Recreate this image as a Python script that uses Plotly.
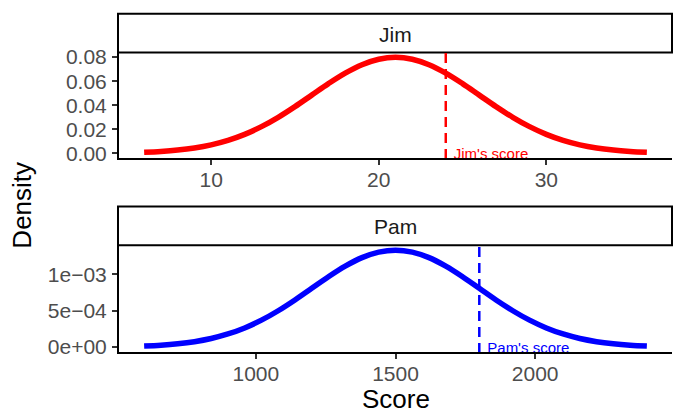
import plotly.graph_objects as go

W, H = 673, 419

# ---- data ----
jim_x = [6, 7, 8, 9, 10, 11, 12, 13, 14, 15, 16, 17, 18, 19, 20, 21,
         22, 23, 24, 25, 26, 27, 28, 29, 30, 31, 32, 33, 34, 35, 36]
jim_d = [0.000886, 0.001583, 0.002716, 0.004479, 0.007095, 0.010798, 0.015790,
         0.022184, 0.029946, 0.038838, 0.048394, 0.057938, 0.066645, 0.073654,
         0.078209, 0.079788, 0.078209, 0.073654, 0.066645, 0.057938, 0.048394,
         0.038838, 0.029946, 0.022184, 0.015790, 0.010798, 0.007095, 0.004479,
         0.002716, 0.001583, 0.000886]
jim_score = 24

pam_x = [600, 660, 720, 780, 840, 900, 960, 1020, 1080, 1140, 1200, 1260, 1320,
         1380, 1440, 1500, 1560, 1620, 1680, 1740, 1800, 1860, 1920, 1980, 2040,
         2100, 2160, 2220, 2280, 2340, 2400]
pam_d = [0.0000148, 0.0000264, 0.0000453, 0.0000746, 0.00011823, 0.00017997,
         0.00026317, 0.00036973, 0.00049910, 0.00064730, 0.00080657, 0.00096563,
         0.0011107, 0.0012276, 0.0013035, 0.0013298, 0.0013035, 0.0012276,
         0.0011107, 0.00096563, 0.00080657, 0.00064730, 0.00049910, 0.00036973,
         0.00026317, 0.00017997, 0.00011823, 0.0000746, 0.0000453, 0.0000264,
         0.0000148]
pam_score = 1800

jim_xticks = [10, 20, 30]
pam_xticks = [1000, 1500, 2000]
jim_yticks = [0.00, 0.02, 0.04, 0.06, 0.08]
jim_ytext = ["0.00", "0.02", "0.04", "0.06", "0.08"]
pam_yticks = [0.0, 0.0005, 0.001]
pam_ytext = ["0e+00", "5e\u221204", "1e\u221203"]

FONT = "Liberation Sans, Arial, sans-serif"


def expand(lo, hi, f=0.05):
    d = (hi - lo) * f
    return [lo - d, hi + d]


def py(p):  # pixel from top -> paper
    return 1 - p / H


def px(p):
    return p / W


jim_rx = expand(min(jim_x), max(jim_x))
pam_rx = expand(min(pam_x), max(pam_x))
jim_ry = expand(0, max(jim_d))
pam_ry = expand(0, max(pam_d))
x0p, x1p = 119, 672
jim_top, jim_bot = 47, 156
pam_top, pam_bot = 246, 356
# label offset: ~8 px right of the score line, ~2 px below zero
jim_off = 8 * (jim_rx[1] - jim_rx[0]) / (x1p - x0p)
pam_off = 8 * (pam_rx[1] - pam_rx[0]) / (x1p - x0p)
jim_dy = -2 * (jim_ry[1] - jim_ry[0]) / (jim_bot - jim_top)
pam_dy = -2 * (pam_ry[1] - pam_ry[0]) / (pam_bot - pam_top)

fig = go.Figure()

# Jim
fig.add_trace(go.Scatter(x=jim_x, y=jim_d, mode="lines", line=dict(color="#FF0000", width=5.5, shape="spline"),
                         xaxis="x", yaxis="y", showlegend=False, hoverinfo="skip"))
fig.add_trace(go.Scatter(x=[jim_score, jim_score], y=expand(0, max(jim_d), 0.06), mode="lines",
                         line=dict(color="#FF0000", width=2.5, dash="10px,6px"),
                         xaxis="x", yaxis="y", showlegend=False, hoverinfo="skip"))
fig.add_trace(go.Scatter(x=[jim_score + jim_off], y=[jim_dy], mode="text", text=["Jim's score"],
                         textposition="middle right",
                         textfont=dict(color="#FF0000", size=15, family=FONT), cliponaxis=True,
                         xaxis="x", yaxis="y", showlegend=False, hoverinfo="skip"))
# Pam
fig.add_trace(go.Scatter(x=pam_x, y=pam_d, mode="lines", line=dict(color="#0000FF", width=5.5, shape="spline"),
                         xaxis="x2", yaxis="y2", showlegend=False, hoverinfo="skip"))
fig.add_trace(go.Scatter(x=[pam_score, pam_score], y=expand(0, max(pam_d), 0.06), mode="lines",
                         line=dict(color="#0000FF", width=2.5, dash="10px,6px"),
                         xaxis="x2", yaxis="y2", showlegend=False, hoverinfo="skip"))
fig.add_trace(go.Scatter(x=[pam_score + pam_off], y=[pam_dy], mode="text", text=["Pam's score"],
                         textposition="middle right",
                         textfont=dict(color="#0000FF", size=15, family=FONT), cliponaxis=True,
                         xaxis="x2", yaxis="y2", showlegend=False, hoverinfo="skip"))

xdom = [px(x0p), px(x1p)]
axis_common = dict(showline=True, linecolor="black", linewidth=2, ticks="outside", ticklen=5,
                   tickwidth=2, tickcolor="#333333", showgrid=False, zeroline=False,
                   tickfont=dict(size=21, color="#4D4D4D", family=FONT), fixedrange=True)

fig.update_layout(
    width=W, height=H, margin=dict(l=0, r=0, t=0, b=0),
    paper_bgcolor="white", plot_bgcolor="white",
    font=dict(family=FONT),
    xaxis=dict(domain=xdom, anchor="y", range=jim_rx, tickvals=jim_xticks,
               ticklabelstandoff=-3, **axis_common),
    yaxis=dict(domain=[py(jim_bot), py(jim_top)], anchor="x", range=jim_ry,
               tickvals=jim_yticks, ticktext=jim_ytext, ticklabelstandoff=1, **axis_common),
    xaxis2=dict(domain=xdom, anchor="y2", range=pam_rx, tickvals=pam_xticks,
                ticklabelstandoff=-3, **axis_common),
    yaxis2=dict(domain=[py(pam_bot), py(pam_top)], anchor="x2", range=pam_ry,
                tickvals=pam_yticks, ticktext=pam_ytext, ticklabelstandoff=1, **axis_common),
    shapes=[
        dict(type="rect", xref="paper", yref="paper", x0=px(118), x1=px(672), y0=py(47), y1=py(7),
             line=dict(color="black", width=2), fillcolor="white", layer="below"),
        dict(type="rect", xref="paper", yref="paper", x0=px(118), x1=px(672), y0=py(246), y1=py(206),
             line=dict(color="black", width=2), fillcolor="white", layer="below"),
    ],
    annotations=[
        dict(text="Jim", xref="paper", yref="paper", x=px(395), y=py(28), showarrow=False,
             font=dict(size=21, color="#1A1A1A", family=FONT), xanchor="center", yanchor="middle"),
        dict(text="Pam", xref="paper", yref="paper", x=px(395), y=py(227), showarrow=False,
             font=dict(size=21, color="#1A1A1A", family=FONT), xanchor="center", yanchor="middle"),
        dict(text="Density", xref="paper", yref="paper", x=px(22), y=py(205), showarrow=False, textangle=-90,
             font=dict(size=26, color="black", family=FONT), xanchor="center", yanchor="middle"),
        dict(text="Score", xref="paper", yref="paper", x=px(396), y=py(405), showarrow=False,
             font=dict(size=26, color="black", family=FONT), xanchor="center", yanchor="middle"),
    ],
)

fig.write_html("out.html")
